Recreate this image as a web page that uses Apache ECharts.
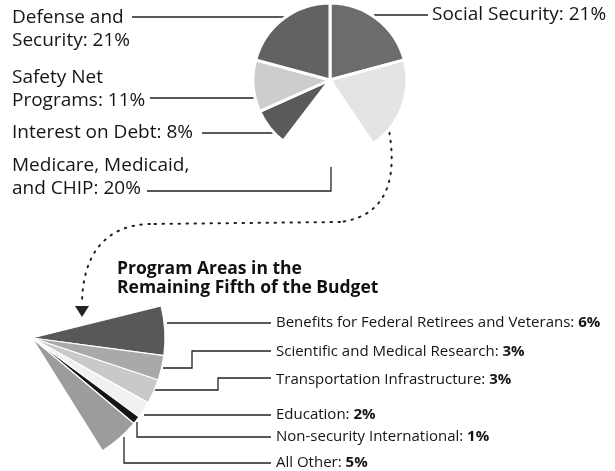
<!DOCTYPE html>
<html>
<head>
<meta charset="utf-8">
<title>Budget pie</title>
<script src="https://cdn.jsdelivr.net/npm/echarts@6/dist/echarts.min.js"></script>
<style>
    html, body { margin: 0; padding: 0; background: #fff; }
    #chart { width: 615px; height: 471px; }
</style>
</head>
<body>
<div id="chart"></div>
<script>
// whole budget, clockwise from 12 o'clock
var mainNames = ['Social Security', 'Remaining Fifth', 'Medicare, Medicaid,\nand CHIP', 'Interest on Debt', 'Safety Net\nPrograms', 'Defense and\nSecurity'];
var mainValues = [21, 20, 20, 8, 11, 21];
var mainColors = ['#6c6c6c', '#e4e4e4', '#ffffff', '#5a5a5a', '#cdcdcd', '#626262'];

// the remaining fifth, split by program area
var subNames = ['Benefits for Federal Retirees and Veterans', 'Scientific and Medical Research', 'Transportation Infrastructure', 'Education', 'Non-security International', 'All Other'];
var subValues = [6, 3, 3, 2, 1, 5];
var subColors = ['#585858', '#a9a9a9', '#c9c9c9', '#f1f1f1', '#151515', '#9c9c9c'];

var font = '"Open Sans", "Noto Sans", sans-serif';

// where each label sits and how its leader line runs
var mainLayout = [
    {x: 432, y: 15, va: 'middle', line: [[374, 15], [400, 15], [428, 15]]},
    null,
    {x: 12, y: 154, va: 'top', line: [[331, 167], [331, 191], [147, 191]]},
    {x: 12, y: 133, va: 'middle', line: [[273, 133], [240, 133], [202, 133]]},
    {x: 12, y: 66, va: 'top', line: [[255, 98], [200, 98], [150, 98]]},
    {x: 12, y: 6, va: 'top', line: [[287, 17], [200, 17], [132, 17]]}
];
var subLayout = [
    {y: 323, line: [[167, 323], [220, 323], [271, 323]]},
    {y: 352, line: [[163, 368], [192, 368], [192, 351], [271, 351]]},
    {y: 380, line: [[152, 390], [218, 390], [218, 378], [271, 378]]},
    {y: 415, line: [[144, 415], [206, 415], [271, 415]]},
    {y: 437, line: [[137, 422], [137, 437], [271, 437]]},
    {y: 463, line: [[124, 437], [124, 463], [271, 463]]}
];

var mainData = [];
for (var i = 0; i < mainNames.length; i++) {
    var item = {name: mainNames[i], value: mainValues[i], itemStyle: {color: mainColors[i]}};
    if (!mainLayout[i]) {
        item.label = {show: false};
        item.labelLine = {show: false};
    }
    mainData.push(item);
}
var subData = [];
for (var j = 0; j < subNames.length; j++) {
    subData.push({name: subNames[j], value: subValues[j], itemStyle: {color: subColors[j]}});
}

var dotted = {fill: null, stroke: '#222', lineWidth: 2, lineDash: [1.5, 6.5], lineCap: 'round'};

var myChart = echarts.init(document.getElementById('chart'));
myChart.setOption({
    animation: false,
    title: {
        text: 'Program Areas in the\nRemaining Fifth of the Budget',
        left: 117,
        top: 260,
        padding: 0,
        textStyle: {fontFamily: font, fontWeight: 'bold', fontSize: 17.5, lineHeight: 19, color: '#111'}
    },
    graphic: [
        {type: 'bezierCurve', shape: {x1: 388, y1: 125, cpx1: 395, cpy1: 160, cpx2: 398, cpy2: 215, x2: 340, y2: 222}, style: dotted},
        {type: 'line', shape: {x1: 340, y1: 222, x2: 150, y2: 224}, style: dotted},
        {type: 'bezierCurve', shape: {x1: 150, y1: 224, cpx1: 105, cpy1: 225, cpx2: 82, cpy2: 255, x2: 82, y2: 305}, style: dotted},
        {type: 'polygon', shape: {points: [[75, 306], [89, 306], [82, 317]]}, style: {fill: '#222'}}
    ],
    series: [
        {
            name: 'Budget',
            type: 'pie',
            center: [330, 80],
            radius: [0, 77],
            startAngle: 90,
            clockwise: true,
            avoidLabelOverlap: false,
            itemStyle: {borderColor: '#fff', borderWidth: 3},
            label: {
                show: true,
                position: 'outside',
                fontFamily: font,
                fontSize: 19,
                lineHeight: 23,
                color: '#151515',
                formatter: function (p) { return p.name + ': ' + p.value + '%'; }
            },
            labelLine: {show: true, lineStyle: {color: '#222', width: 1.3}},
            labelLayout: function (p) {
                var L = mainLayout[p.dataIndex];
                if (!L) return {};
                return {x: L.x, y: L.y, align: 'left', verticalAlign: L.va, labelLinePoints: L.line};
            },
            emphasis: {disabled: true},
            data: mainData
        },
        {
            name: 'Remaining Fifth',
            type: 'pie',
            center: [32, 338],
            radius: [0, 133],
            startAngle: 14,
            endAngle: -58,
            clockwise: true,
            avoidLabelOverlap: false,
            itemStyle: {borderColor: '#fff', borderWidth: 1.2},
            label: {
                show: true,
                position: 'outside',
                fontFamily: font,
                fontSize: 15,
                color: '#151515',
                formatter: function (p) { return '{n|' + p.name + ': }{b|' + p.value + '%}'; },
                rich: {
                    n: {fontFamily: font, fontSize: 15, color: '#151515'},
                    b: {fontFamily: font, fontSize: 15, fontWeight: 'bold', color: '#151515'}
                }
            },
            labelLine: {show: true, lineStyle: {color: '#222', width: 1.3}},
            labelLayout: function (p) {
                var L = subLayout[p.dataIndex];
                return {x: 276, y: L.y, align: 'left', verticalAlign: 'middle', labelLinePoints: L.line};
            },
            emphasis: {disabled: true},
            data: subData
        }
    ]
});
</script>
</body>
</html>
